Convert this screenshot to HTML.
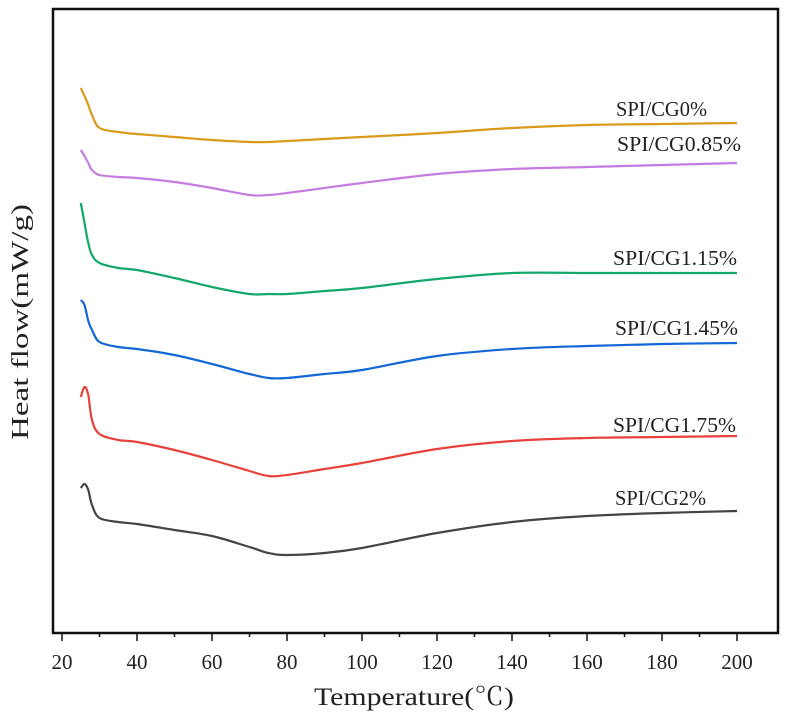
<!DOCTYPE html>
<html><head><meta charset="utf-8"><style>
html,body{margin:0;padding:0;background:#fff;}
svg text{font-family:"Liberation Serif","Noto Serif CJK SC",serif;fill:#222;}
</style></head><body>
<svg id="chart" width="787" height="717" viewBox="0 0 787 717" xmlns="http://www.w3.org/2000/svg">
<rect x="53" y="9" width="725" height="624" fill="none" stroke="#111" stroke-width="2.5"/>
<g id="xticks"></g>
<g id="series"></g>
<text x="414" y="705" font-size="25" text-anchor="middle" textLength="200" lengthAdjust="spacingAndGlyphs">Temperature(℃)</text>
<text transform="translate(28,322) rotate(-90)" font-size="24" text-anchor="middle" textLength="236" lengthAdjust="spacingAndGlyphs">Heat flow(mW/g)</text>
</svg>
<script>
const xTicks=[20,40,60,80,100,120,140,160,180,200];
const temps=[25,26,27,28,30,35,40,50,60,70,75,80,90,100,120,140,160,180,200];
const names=["SPI/CG0%","SPI/CG0.85%","SPI/CG1.15%","SPI/CG1.45%","SPI/CG1.75%","SPI/CG2%"];
const colors=["#d99a1a","#c57ce0","#13a86a","#1467d6","#e8413c","#444444"];
// values in arbitrary heat-flow units (higher = up)
const sCG0  =[545,537,528,518,505,501,499,496,493,491,491,492,494,496,500,505,508,509,510];
const sCG085=[483,477,470,463,458,456,455,451,445,438,438,440,445,450,459,464,466,468,470];
const sCG115=[430,410,390,378,370,365,363,355,346,339,339,339,342,345,354,360,360,360,360];
const sCG145=[333,328,312,303,291,286,284,278,269,259,255,255,259,263,277,284,287,289,290];
const sCG175=[236,246,238,213,199,193,191,183,173,162,157,158,164,170,184,192,195,196,197];
const sCG2  =[145,149,143,128,115,111,109,103,97,86,80,78,80,85,100,111,117,120,122];
const allSeries=[sCG0,sCG085,sCG115,sCG145,sCG175,sCG2];
const labelXs=[616,617,613,615,613,615];
const labelW=[91,124,124,123,123,91];
const labelYOff=[-7,-12,-8,-8,-4,-6];
function xs(v){return 62+(v-20)*3.75;}
function ys(v){return 633-v;}
function smooth(pts){
  let d='M'+pts[0][0].toFixed(1)+','+pts[0][1].toFixed(1);
  for(let i=0;i<pts.length-1;i++){
    const p0=pts[Math.max(i-1,0)],p1=pts[i],p2=pts[i+1],p3=pts[Math.min(i+2,pts.length-1)];
    const c1=[p1[0]+(p2[0]-p0[0])/6,p1[1]+(p2[1]-p0[1])/6];
    const c2=[p2[0]-(p3[0]-p1[0])/6,p2[1]-(p3[1]-p1[1])/6];
    d+='C'+c1[0].toFixed(1)+','+c1[1].toFixed(1)+' '+c2[0].toFixed(1)+','+c2[1].toFixed(1)+' '+p2[0].toFixed(1)+','+p2[1].toFixed(1);
  }
  return d;
}
const NS="http://www.w3.org/2000/svg";
const gx=document.getElementById('xticks');
xTicks.forEach((t,i)=>{
  const l=document.createElementNS(NS,'line');
  
  
  l.setAttribute('x1',xs(t));l.setAttribute('x2',xs(t));l.setAttribute('y1',633);l.setAttribute('y2',641);
  l.setAttribute('stroke','#111');l.setAttribute('stroke-width','1.5');gx.appendChild(l);
  if(i<xTicks.length-1){const m=document.createElementNS(NS,'line');
  
  
  const mv=t+10;m.setAttribute('x1',xs(mv));m.setAttribute('x2',xs(mv));m.setAttribute('y1',633);m.setAttribute('y2',637);
  m.setAttribute('stroke','#111');m.setAttribute('stroke-width','1.5');gx.appendChild(m);}
  const tx=document.createElementNS(NS,'text');
  
  
  tx.setAttribute('x',xs(t));tx.setAttribute('y',669);tx.setAttribute('font-size','21');tx.setAttribute('text-anchor','middle');
  tx.textContent=t;gx.appendChild(tx);
});
const gs=document.getElementById('series');
allSeries.forEach((s,k)=>{
  const p=document.createElementNS(NS,'path');
  
  
  p.setAttribute('d',smooth(s.map((v,i)=>[xs(temps[i]),ys(v)])));
  p.setAttribute('fill','none');p.setAttribute('stroke',colors[k]);p.setAttribute('stroke-width','2.2');p.setAttribute('stroke-linejoin','round');
  gs.appendChild(p);
  const t=document.createElementNS(NS,'text');
  
  
  t.setAttribute('x',labelXs[k]);t.setAttribute('y',ys(s[s.length-1])+labelYOff[k]);
  t.setAttribute('font-size','21');t.setAttribute('textLength',labelW[k]);t.setAttribute('lengthAdjust','spacingAndGlyphs');
  t.textContent=names[k];gs.appendChild(t);
});
</script>
</body></html>
